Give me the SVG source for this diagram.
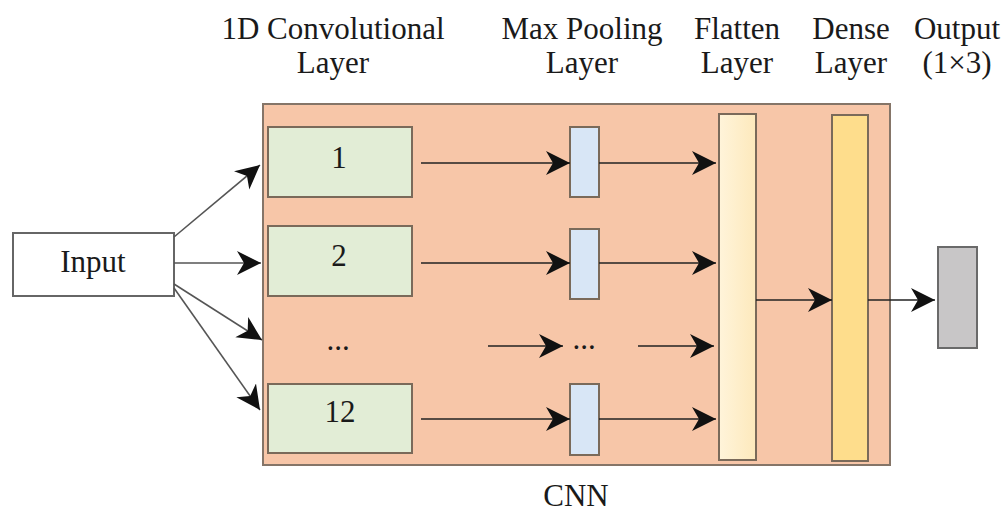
<svg xmlns="http://www.w3.org/2000/svg" width="1003" height="511" viewBox="0 0 1003 511">
<style>
text{font-family:"Liberation Serif","Times New Roman",serif;fill:#1a1a1a;text-anchor:middle}
.hdr{font-size:31px}
.lbl{font-size:31px}
.box{stroke:#7a6a5a;stroke-width:2}
.ln{stroke:#222;stroke-width:1.6;fill:none;marker-end:url(#ah)}
.gl{stroke:#555;stroke-width:1.6;fill:none;marker-end:url(#ah)}
</style>
<defs>
<marker id="ah" markerUnits="userSpaceOnUse" markerWidth="26" markerHeight="26" refX="24" refY="12" orient="auto" viewBox="0 0 26 26">
<path d="M0,0 L24,12 L0,24 L7,12 Z" fill="#111"/>
</marker>
<linearGradient id="gf" x1="0" x2="1" y1="0" y2="0"><stop offset="0" stop-color="#FFF4DA"/><stop offset="1" stop-color="#FDE9BC"/></linearGradient>
</defs>
<rect width="1003" height="511" fill="#fff"/>
<g id="headers">
<text class="hdr" x="333" y="39">1D Convolutional</text>
<text class="hdr" x="333" y="73">Layer</text>
<text class="hdr" x="582" y="39">Max Pooling</text>
<text class="hdr" x="582" y="73">Layer</text>
<text class="hdr" x="737" y="39">Flatten</text>
<text class="hdr" x="737" y="73">Layer</text>
<text class="hdr" x="851" y="39">Dense</text>
<text class="hdr" x="851" y="73">Layer</text>
<text class="hdr" x="957" y="39">Output</text>
<text class="hdr" x="957" y="73">(1×3)</text>
</g>
<g id="cnn">
<rect x="263" y="104" width="627" height="361" fill="#F7C6A8" stroke="#857568" stroke-width="2"/>
<text class="lbl" x="576" y="506">CNN</text>
</g>
<g id="input">
<rect x="13" y="233" width="161" height="63" fill="#fff" stroke="#666" stroke-width="2"/>
<text class="lbl" x="93" y="272">Input</text>
</g>
<g id="conv1"><rect class="box" x="268" y="127" width="144" height="70" fill="#E2EDD6"/><text class="lbl" x="339" y="168">1</text></g>
<g id="conv2"><rect class="box" x="268" y="226" width="144" height="70" fill="#E2EDD6"/><text class="lbl" x="339" y="266">2</text></g>
<g id="convdots"><text class="lbl" x="338" y="350">...</text></g>
<g id="conv12"><rect class="box" x="268" y="384" width="144" height="69" fill="#E2EDD6"/><text class="lbl" x="340" y="422">12</text></g>
<g id="pool1"><rect class="box" x="570" y="127" width="29" height="70" fill="#D8E6F6"/></g>
<g id="pool2"><rect class="box" x="570" y="229" width="29" height="70" fill="#D8E6F6"/></g>
<g id="pooldots"><text class="lbl" x="584" y="349">...</text></g>
<g id="pool12"><rect class="box" x="570" y="384" width="29" height="71" fill="#D8E6F6"/></g>
<g id="flatten"><rect class="box" x="719" y="114" width="37" height="346" fill="url(#gf)"/></g>
<g id="dense"><rect class="box" x="832" y="115" width="36" height="346" fill="#FEDD8C"/></g>
<g id="output"><rect x="938" y="247" width="39" height="101" fill="#C8C6C7" stroke="#6a6a6a" stroke-width="2"/></g>
<g id="connectors">
<line class="gl" x1="174" y1="237" x2="260" y2="165"/>
<line class="gl" x1="174" y1="263" x2="261" y2="263"/>
<line class="gl" x1="174" y1="284" x2="262" y2="340"/>
<line class="gl" x1="174" y1="288" x2="260" y2="410"/>
<line class="ln" x1="421" y1="163" x2="570" y2="163"/>
<line class="ln" x1="421" y1="263" x2="570" y2="263"/>
<line class="ln" x1="421" y1="419" x2="570" y2="419"/>
<line class="ln" x1="599" y1="163" x2="716" y2="163"/>
<line class="ln" x1="599" y1="263" x2="716" y2="263"/>
<line class="ln" x1="599" y1="419" x2="716" y2="419"/>
<line class="ln" x1="488" y1="346" x2="563" y2="346"/>
<line class="ln" x1="638" y1="346" x2="714" y2="346"/>
<line class="ln" x1="756" y1="300" x2="832" y2="300"/>
<line class="ln" x1="868" y1="300" x2="935" y2="300"/>
</g>
</svg>
